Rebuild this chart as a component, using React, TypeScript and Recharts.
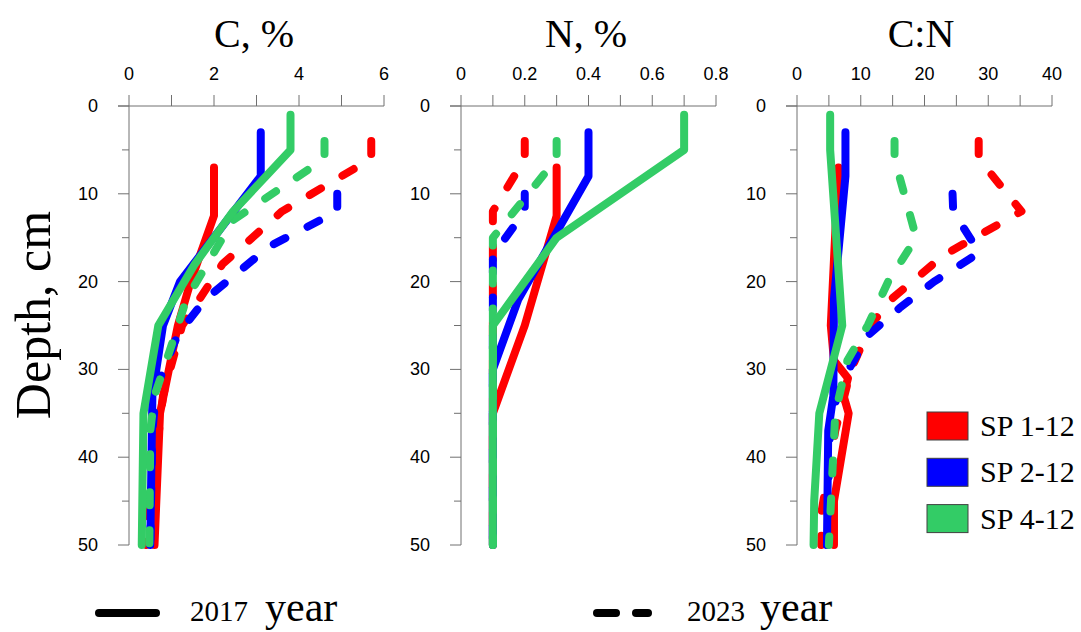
import { ScatterChart, Scatter, XAxis, YAxis, ReferenceLine } from "recharts";

// depth ticks (cm), shared by all three panels
const depthTicks = [0, 5, 10, 15, 20, 25, 30, 35, 40, 45, 50];

// C, %
const cTicks = [0, 1, 2, 3, 4, 5, 6];
const cLabels = [0, 2, 4, 6];
const cRed17Depth = [7, 12.5, 20, 25, 35, 50];
const cRed17 = [2.0, 2.0, 1.45, 1.15, 0.73, 0.6];
const cBlue17Depth = [3, 8, 20, 25, 33, 50];
const cBlue17 = [3.1, 3.1, 1.2, 0.8, 0.55, 0.5];
const cGreen17Depth = [1, 5, 12, 18, 25, 35, 50];
const cGreen17 = [3.8, 3.8, 2.45, 1.55, 0.69, 0.34, 0.3];
const cRed23Depth = [4, 6, 12, 18, 25, 33, 50];
const cRed23 = [5.7, 5.7, 3.6, 2.2, 1.25, 0.8, 0.4];
const cBlue23Depth = [10, 12, 16, 22, 26, 32, 37, 50];
const cBlue23 = [4.9, 4.9, 3.3, 1.8, 1.15, 0.65, 0.55, 0.5];
const cGreen23Depth = [4, 6, 13, 22, 28, 33, 37, 50];
const cGreen23 = [4.6, 4.6, 2.45, 1.35, 0.95, 0.6, 0.5, 0.48];

// N, %
const nTicks = [0, 0.1, 0.2, 0.3, 0.4, 0.5, 0.6, 0.7, 0.8];
const nLabels = [0, 0.2, 0.4, 0.6, 0.8];
const nRed17Depth = [7, 12.5, 25, 35, 50];
const nRed17 = [0.3, 0.3, 0.2, 0.1, 0.1];
const nBlue17Depth = [3, 8, 15, 22, 30, 50];
const nBlue17 = [0.4, 0.4, 0.29, 0.18, 0.1, 0.1];
const nGreen17Depth = [1, 5, 15, 25, 50];
const nGreen17 = [0.7, 0.7, 0.3, 0.1, 0.1];
const nRed23Depth = [4, 6, 12, 50];
const nRed23 = [0.2, 0.2, 0.1, 0.1];
const nBlue23Depth = [10, 12, 17, 50];
const nBlue23 = [0.2, 0.2, 0.1, 0.1];
const nGreen23Depth = [4, 6, 15, 50];
const nGreen23 = [0.3, 0.3, 0.1, 0.1];

// C:N
const cnTicks = [0, 5, 10, 15, 20, 25, 30, 35, 40];
const cnLabels = [0, 10, 20, 30, 40];
const cnRed17Depth = [7, 25, 29, 31, 33, 35, 45, 50];
const cnRed17 = [6.5, 5.3, 5.8, 8.0, 7.3, 8.1, 5.8, 5.8];
const cnBlue17Depth = [3, 8, 22, 33, 37, 50];
const cnBlue17 = [7.6, 7.6, 5.8, 5.7, 4.9, 4.7];
const cnGreen17Depth = [1, 5, 25, 35, 45, 50];
const cnGreen17 = [5.2, 5.2, 7.1, 3.5, 2.7, 2.6];
const cnRed23Depth = [4, 6, 12, 17, 22, 25, 30, 37, 46, 50];
const cnRed23 = [28.5, 28.5, 35.2, 23, 14.8, 11.5, 8.5, 6, 3.9, 3.8];
const cnBlue23Depth = [10, 12, 16.7, 20, 23, 26, 29.5, 33, 36, 50];
const cnBlue23 = [24.4, 24.5, 28.6, 21.5, 16.1, 11.3, 8.5, 6.3, 5.2, 4.7];
const cnGreen23Depth = [4, 6, 15, 20, 25, 29, 35, 50];
const cnGreen23 = [15.3, 15.3, 18.7, 14.3, 11.1, 7.9, 6, 5];

const siteNames = ["SP 1-12", "SP 2-12", "SP 4-12"];
const yearNames = ["2017", "2023"];

const RED = "#ff0000";
const BLUE = "#0000ff";
const GREEN = "#33cc66";
const AXIS = "#707070";
const DASH = "13 25";
const SANS = "'Liberation Sans', Arial, sans-serif";
const SERIF = "'Liberation Serif', 'Times New Roman', serif";

const toPoints = (depth: number[], vals: number[]) =>
  depth.map((d, i) => ({ x: vals[i], y: d }));

type Series = { depth: number[]; vals: number[]; color: string; dashed: boolean };

const NoDot = () => <g />;

const DepthTick = (props: any) => {
  const { x, y, payload } = props;
  const major = payload.value % 10 === 0;
  return (
    <g>
      <line x1={major ? x : x + 4} x2={x + 11} y1={y} y2={y} stroke={AXIS} strokeWidth={1} />
      {major && (
        <text x={x - 20} y={y} textAnchor="end" dominantBaseline="central" fontSize={18} fontFamily={SANS} fill="#000">
          {payload.value}
        </text>
      )}
    </g>
  );
};

function Panel(props: {
  left: number;
  width: number;
  yWidth: number;
  max: number;
  ticks: number[];
  labels: number[];
  series: Series[];
}) {
  const { left, width, yWidth, max, ticks, labels, series } = props;
  return (
    <div style={{ position: "absolute", left, top: 0 }}>
      <ScatterChart width={width} height={560} margin={{ top: 0, right: width - yWidth - 266, bottom: 15, left: 0 }}>
        <XAxis
          type="number"
          dataKey="x"
          orientation="top"
          domain={[0, max]}
          ticks={ticks}
          interval={0}
          height={106}
          padding={{ left: 11, right: 0 }}
          stroke={AXIS}
          tickSize={11}
          tickMargin={15}
          tick={{ fill: "#000", fontSize: 18, fontFamily: SANS }}
          tickFormatter={(v: number) => (labels.includes(v) ? String(v) : "")}
        />
        <YAxis
          type="number"
          dataKey="y"
          domain={[0, 50]}
          reversed
          ticks={depthTicks}
          interval={0}
          width={yWidth}
          axisLine={false}
          tickLine={false}
          tickSize={0}
          tickMargin={0}
          tick={<DepthTick />}
        />
        <ReferenceLine x={0} stroke={AXIS} strokeWidth={1} />
        {series.map((s, i) => (
          <Scatter
            key={i}
            data={toPoints(s.depth, s.vals)}
            fill={s.color}
            shape={NoDot}
            isAnimationActive={false}
            line={{
              stroke: s.color,
              strokeWidth: 8,
              strokeDasharray: s.dashed ? DASH : undefined,
              strokeLinecap: "round",
              strokeLinejoin: "round",
            }}
          />
        ))}
      </ScatterChart>
    </div>
  );
}

export default function App() {
  const cSeries: Series[] = [
    { depth: cRed23Depth, vals: cRed23, color: RED, dashed: true },
    { depth: cRed17Depth, vals: cRed17, color: RED, dashed: false },
    { depth: cBlue23Depth, vals: cBlue23, color: BLUE, dashed: true },
    { depth: cBlue17Depth, vals: cBlue17, color: BLUE, dashed: false },
    { depth: cGreen23Depth, vals: cGreen23, color: GREEN, dashed: true },
    { depth: cGreen17Depth, vals: cGreen17, color: GREEN, dashed: false },
  ];
  const nSeries: Series[] = [
    { depth: nRed23Depth, vals: nRed23, color: RED, dashed: true },
    { depth: nRed17Depth, vals: nRed17, color: RED, dashed: false },
    { depth: nBlue23Depth, vals: nBlue23, color: BLUE, dashed: true },
    { depth: nBlue17Depth, vals: nBlue17, color: BLUE, dashed: false },
    { depth: nGreen23Depth, vals: nGreen23, color: GREEN, dashed: true },
    { depth: nGreen17Depth, vals: nGreen17, color: GREEN, dashed: false },
  ];
  const cnSeries: Series[] = [
    { depth: cnRed23Depth, vals: cnRed23, color: RED, dashed: true },
    { depth: cnRed17Depth, vals: cnRed17, color: RED, dashed: false },
    { depth: cnBlue23Depth, vals: cnBlue23, color: BLUE, dashed: true },
    { depth: cnBlue17Depth, vals: cnBlue17, color: BLUE, dashed: false },
    { depth: cnGreen23Depth, vals: cnGreen23, color: GREEN, dashed: true },
    { depth: cnGreen17Depth, vals: cnGreen17, color: GREEN, dashed: false },
  ];
  const siteColors = [RED, BLUE, GREEN];

  return (
    <div style={{ position: "absolute", left: 0, top: 0, width: 1081, height: 632, background: "#fff", overflow: "hidden" }}>
      <Panel left={0} width={400} yWidth={118} max={6} ticks={cTicks} labels={cLabels} series={cSeries} />
      <Panel left={340} width={400} yWidth={110} max={0.8} ticks={nTicks} labels={nLabels} series={nSeries} />
      <Panel left={680} width={390} yWidth={106} max={40} ticks={cnTicks} labels={cnLabels} series={cnSeries} />

      <svg width={1081} height={632} style={{ position: "absolute", left: 0, top: 0, pointerEvents: "none" }}>
        <g fontFamily={SERIF} fill="#000">
          <text x={254} y={47} textAnchor="middle" fontSize={40}>C, %</text>
          <text x={586} y={47} textAnchor="middle" fontSize={40}>N, %</text>
          <text x={921} y={47} textAnchor="middle" fontSize={40}>C:N</text>
          <text x={50} y={315} textAnchor="middle" fontSize={50} transform="rotate(-90 50 315)">Depth, cm</text>
        </g>

        {siteNames.map((name, i) => (
          <g key={name}>
            <rect x={927} y={412 + i * 46.3} width={41} height={28} fill={siteColors[i]} stroke="#404040" strokeWidth={1} />
            <text x={980} y={436 + i * 46.3} fontSize={30} fontFamily={SERIF} fill="#000">{name}</text>
          </g>
        ))}

        <line x1={99} x2={156} y1={613} y2={613} stroke="#000" strokeWidth={8} strokeLinecap="round" />
        <text x={190} y={621} fontSize={29} fontFamily={SERIF}>{yearNames[0]}</text>
        <text x={265} y={621} fontSize={42} fontFamily={SERIF}>year</text>

        <line x1={597} x2={616} y1={613} y2={613} stroke="#000" strokeWidth={8} strokeLinecap="round" />
        <line x1={636} x2={648} y1={613} y2={613} stroke="#000" strokeWidth={8} strokeLinecap="round" />
        <text x={687} y={621} fontSize={29} fontFamily={SERIF}>{yearNames[1]}</text>
        <text x={760} y={621} fontSize={42} fontFamily={SERIF}>year</text>
      </svg>
    </div>
  );
}
